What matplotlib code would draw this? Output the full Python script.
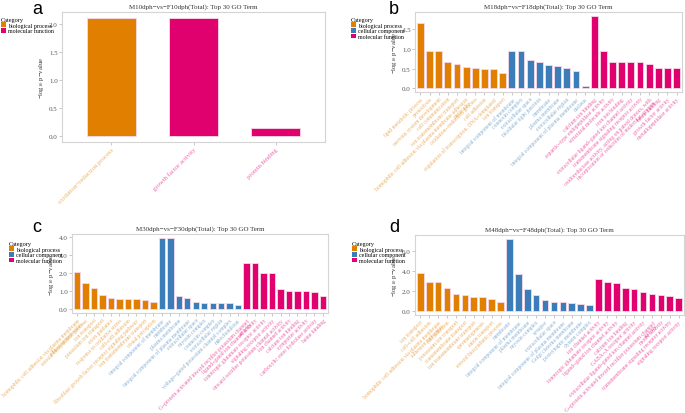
import matplotlib
matplotlib.use("Agg")
import matplotlib.pyplot as plt
from matplotlib.ticker import MultipleLocator, FormatStrFormatter
from matplotlib.patches import Patch

plt.rcParams['font.family'] = ['Liberation Serif', 'DejaVu Serif']
plt.rcParams['mathtext.fontset'] = 'stix'

# colours for the three GO categories
col_bp = "#E07F00"
col_cc = "#3A7DB8"
col_mf = "#E0006E"

# ---- panel a: M10dph vs F10dph
a_bp_terms = ["oxidation\u2212reduction process"]
a_bp_vals = [2.1]
a_cc_terms = []
a_cc_vals = []
a_mf_terms = ["growth factor activity", "protein binding"]
a_mf_vals = [2.1, 0.15]

# ---- panel b: M18dph vs F18dph
b_bp_terms = ["lipid metabolic process", "proteolysis", "nervous system development",
              "cell communication", "ion transmembrane transport",
              "homophilic cell adhesion via plasma membrane adhesion\nmolecules",
              "oxidation\u2212reduction process", "cell adhesion",
              "regulation of transcription, DNA\u2212templated", "ion transport"]
b_bp_vals = [1.65, 0.95, 0.95, 0.67, 0.62, 0.55, 0.52, 0.49, 0.49, 0.38]
b_cc_terms = ["integral component of membrane", "connexin complex", "extracellular space",
              "bicellular tight junction", "membrane", "plasma membrane",
              "extracellular region", "integral component of plasma membrane", "nucleus"]
b_cc_vals = [0.95, 0.95, 0.71, 0.67, 0.59, 0.58, 0.53, 0.43, 0.07]
b_mf_terms = ["calcium ion binding", "aspartic\u2212type endopeptidase activity",
              "structural molecule activity", "iron ion binding",
              "extracellular ligand\u2212gated ion channel activity",
              "transmembrane signaling receptor activity",
              "oxidoreductase activity, acting on paired donors, with\nincorporation or reduction of molecular oxygen",
              "heme binding", "growth factor activity", "metallopeptidase activity"]
b_mf_vals = [1.85, 0.95, 0.67, 0.67, 0.67, 0.67, 0.61, 0.53, 0.53, 0.53]

# ---- panel c: M30dph vs F30dph
c_bp_terms = ["homophilic cell adhesion via plasma membrane\nadhesion molecules",
              "steroid biosynthetic process", "ion transport", "potassium ion transport",
              "axon guidance", "response to oxidative stress", "cell\u2212cell adhesion",
              "fibroblast growth factor receptor signaling pathway",
              "ion transmembrane transport", "visual perception"]
c_bp_vals = [2.05, 1.45, 1.18, 0.78, 0.65, 0.6, 0.6, 0.55, 0.5, 0.43]
c_cc_terms = ["integral component of membrane", "membrane", "plasma membrane",
              "integral component of plasma membrane", "extracellular space",
              "myosin complex", "connexin complex", "extracellular region",
              "voltage\u2212gated potassium channel complex", "mitochondrion"]
c_cc_vals = [3.95, 3.95, 0.75, 0.63, 0.43, 0.38, 0.35, 0.35, 0.35, 0.25]
c_mf_terms = ["G\u2212protein activated inward rectifier potassium channel\nactivity",
              "ligand\u2212gated ion channel activity",
              "ionotropic glutamate receptor activity", "signaling receptor activity",
              "inward rectifier potassium channel activity", "ion channel activity",
              "calcium ion binding", "symporter activity",
              "carboxylic ester hydrolase activity", "heme binding"]
c_mf_vals = [2.55, 2.55, 2.0, 2.0, 1.15, 1.02, 1.02, 1.02, 0.95, 0.75]

# ---- panel d: M48dph vs F48dph
d_bp_terms = ["ion transport", "cell\u2212cell adhesion",
              "homophilic cell adhesion via plasma membrane\nadhesion molecules",
              "cell adhesion", "potassium ion transport", "transmembrane transport",
              "ion transmembrane transport", "spermatogenesis", "anion transport",
              "steroid biosynthetic process"]
d_bp_vals = [3.75, 2.95, 2.95, 2.35, 1.75, 1.65, 1.45, 1.4, 1.2, 0.9]
d_cc_terms = ["membrane", "integral component of membrane", "plasma membrane",
              "myosin complex", "synapse", "extracellular space",
              "integral component of plasma membrane", "Golgi cisterna membrane",
              "postsynaptic membrane", "dynein complex"]
d_cc_vals = [7.2, 3.7, 2.25, 1.6, 1.1, 0.92, 0.92, 0.8, 0.75, 0.6]
d_mf_terms = ["ion channel activity", "ionotropic glutamate receptor activity",
              "ligand\u2212gated ion channel activity", "calcium ion binding",
              "GABA\u2212A receptor activity",
              "extracellular ligand\u2212gated ion channel activity",
              "G\u2212protein activated inward rectifier potassium channel\nactivity",
              "motor activity", "transmembrane signaling receptor activity",
              "signaling receptor activity"]
d_mf_vals = [3.25, 2.95, 2.8, 2.3, 2.25, 1.9, 1.7, 1.6, 1.5, 1.35]


def go_panel(rect, title, letter, letter_xy, bp, cc, mf, step, width, fs, leg_xy):
    ax = fig.add_axes(rect)
    terms, vals, cols = [], [], []
    for (t, v), c in zip([bp, cc, mf], [col_bp, col_cc, col_mf]):
        terms += t
        vals += v
        cols += [c] * len(t)
    x = list(range(len(terms)))
    ax.bar(x, vals, width=width, color=cols, edgecolor="#f6d9e6", linewidth=0.6)
    top = max(vals)
    ax.set_ylim(-0.05 * top, 1.05 * top)
    ax.set_xlim(-0.6, len(terms) - 0.4)
    ax.yaxis.set_major_locator(MultipleLocator(step))
    ax.yaxis.set_major_formatter(FormatStrFormatter('%.1f'))
    ax.tick_params(axis="y", labelsize=5, color="#b0b0b0", labelcolor="#555555",
                   length=2, width=0.5, pad=1)
    ax.tick_params(axis="x", color="#b0b0b0", length=2, width=0.5, pad=1)
    ax.set_xticks(x)
    ax.set_xticklabels(terms, rotation=45, ha="right", rotation_mode="anchor",
                       fontsize=fs, linespacing=0.9)
    for lab, c in zip(ax.get_xticklabels(), cols):
        lab.set_color(c)
        lab.set_alpha(0.6)
    for s in ax.spines.values():
        s.set_color("#d4d4d4")
        s.set_linewidth(0.8)
    ax.set_ylabel("\u2212log$_{10}$ p\u2212value", fontsize=4.8, labelpad=2, color="#333333")
    ax.set_title(title, fontsize=5, pad=3, color="#333333")
    fig.text(letter_xy[0] / 685, 1 - letter_xy[1] / 414, letter, fontsize=13,
             family="Liberation Sans", ha="center", va="center")
    handles = [Patch(facecolor=c, label=n) for t, c, n in
               zip([bp, cc, mf], [col_bp, col_cc, col_mf],
                   ["biological process", "cellular component", "molecular function"])
               if len(t[0]) > 0]
    leg = fig.legend(handles=handles, title="Category", loc="upper left",
                     bbox_to_anchor=(leg_xy[0] / 685, 1 - leg_xy[1] / 414),
                     fontsize=4.3, title_fontsize=4.5, frameon=False,
                     handlelength=0.8, handleheight=0.8, handletextpad=0.3,
                     labelspacing=0.05, borderpad=0, borderaxespad=0)
    leg._legend_box.align = "left"
    return ax


fig = plt.figure(figsize=(6.85, 4.14), dpi=100)

go_panel([62 / 685, 1 - 143 / 414, 263 / 685, 130 / 414],
         "M10dph\u2212vs\u2212F10dph(Total): Top 30 GO Term", "a", (37, 9),
         (a_bp_terms, a_bp_vals), (a_cc_terms, a_cc_vals), (a_mf_terms, a_mf_vals),
         0.5, 0.6, 4.8, (1, 18))
go_panel([415 / 685, 1 - 93 / 414, 267 / 685, 80 / 414],
         "M18dph\u2212vs\u2212F18dph(Total): Top 30 GO Term", "b", (394, 9),
         (b_bp_terms, b_bp_vals), (b_cc_terms, b_cc_vals), (b_mf_terms, b_mf_vals),
         0.5, 0.75, 4.1, (351, 18))
go_panel([72 / 685, 1 - 314 / 414, 256 / 685, 79 / 414],
         "M30dph\u2212vs\u2212F30dph(Total): Top 30 GO Term", "c", (37, 228),
         (c_bp_terms, c_bp_vals), (c_cc_terms, c_cc_vals), (c_mf_terms, c_mf_vals),
         1.0, 0.75, 4.1, (9, 242))
go_panel([415 / 685, 1 - 316 / 414, 269 / 685, 80 / 414],
         "M48dph\u2212vs\u2212F48dph(Total): Top 30 GO Term", "d", (394, 228),
         (d_bp_terms, d_bp_vals), (d_cc_terms, d_cc_vals), (d_mf_terms, d_mf_vals),
         2.0, 0.75, 4.1, (352, 242))

fig.savefig("out.png", dpi=100)
